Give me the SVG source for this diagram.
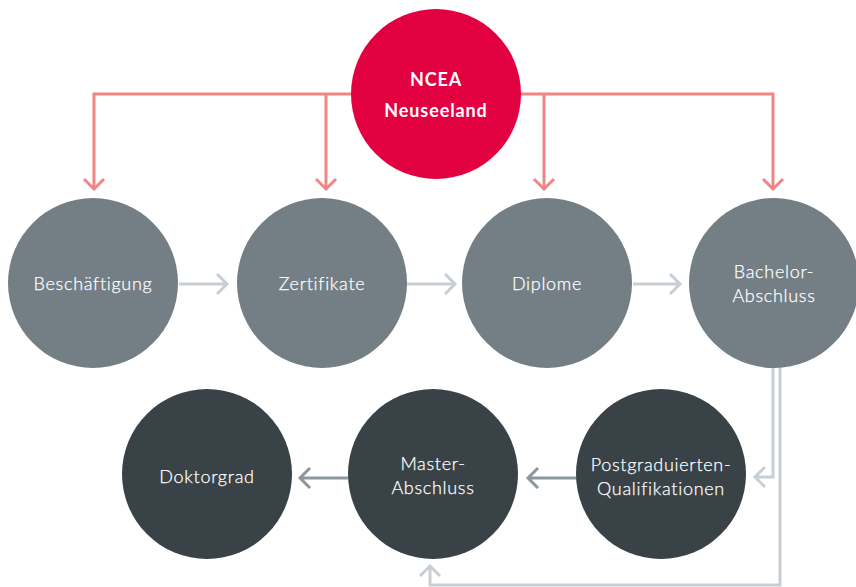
<svg xmlns="http://www.w3.org/2000/svg" width="856" height="587" viewBox="0 0 856 587">
<defs>
<style>
.red{fill:none;stroke:#ef8585;stroke-width:3}
.lg{fill:none;stroke:#c8cfd4;stroke-width:3}
.dg{fill:none;stroke:#8b979d;stroke-width:3}
.t{font-family:Lato,"Noto Sans",sans-serif;font-size:18px;font-weight:300;letter-spacing:0.7px;fill:#ffffff;stroke:#ffffff;stroke-width:0.25px;text-anchor:middle;font-variant-ligatures:none}
.tb{font-family:Lato,"Noto Sans",sans-serif;font-size:18px;font-weight:bold;letter-spacing:0.9px;fill:#ffffff;text-anchor:middle}
.g{fill:#737e85}
.d{fill:#394246}
</style>
</defs>
<rect width="856" height="587" fill="#ffffff"/>
<g id="connectors">
<path class="red" d="M94 190V94H773V190M326 94V190M544 94V190"/>
<path class="red" d="M84 179L94 189L104 179M316 179L326 189L336 179M534 179L544 189L554 179M763 179L773 189L783 179"/>
<path class="lg" d="M179 284H227M217 274L227 284L217 294M407 284H455M445 274L455 284L445 294M633 284H680M670 274L680 284L670 294"/>
<path class="lg" d="M773 367V477H755M765 467L755 477L765 487"/>
<path class="lg" d="M780 367V585H430V566M420 576L430 566L440 576"/>
<path class="dg" d="M348 478H300M310 468L300 478L310 488M577 478H528M538 468L528 478L538 488"/>
</g>
<g id="ncea"><circle cx="436" cy="94" r="85" fill="#e30041"/><text class="tb" x="436" y="86">NCEA</text><text class="tb" x="436" y="117">Neuseeland</text></g>
<g id="beschaeftigung"><circle class="g" cx="93" cy="283" r="85"/><text class="t" x="93" y="290">Beschäftigung</text></g>
<g id="zertifikate"><circle class="g" cx="322" cy="283" r="85"/><text class="t" x="322" y="290">Zertifikate</text></g>
<g id="diplome"><circle class="g" cx="547" cy="283" r="85"/><text class="t" x="547" y="290">Diplome</text></g>
<g id="bachelor"><circle class="g" cx="774" cy="283" r="85"/><text class="t" x="774" y="278">Bachelor-</text><text class="t" x="774" y="302">Abschluss</text></g>
<g id="doktorgrad"><circle class="d" cx="207" cy="474" r="85"/><text class="t" x="207" y="483">Doktorgrad</text></g>
<g id="master"><circle class="d" cx="433" cy="474" r="85"/><text class="t" x="433" y="470">Master-</text><text class="t" x="433" y="494">Abschluss</text></g>
<g id="postgrad"><circle class="d" cx="661" cy="474" r="85"/><text class="t" x="661" y="471">Postgraduierten-</text><text class="t" x="661" y="495">Qualifikationen</text></g>
</svg>
